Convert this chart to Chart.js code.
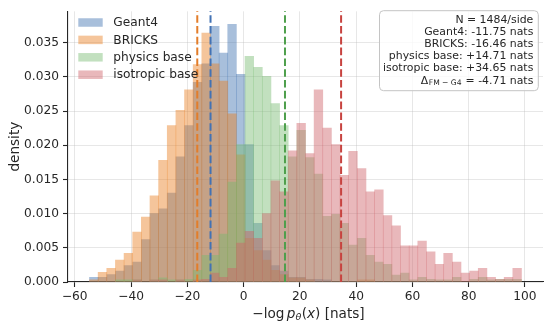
<!DOCTYPE html>
<html><head><meta charset="utf-8">
<script src="https://cdn.jsdelivr.net/npm/chart.js@4.4.1/dist/chart.umd.min.js"></script>
<style>html,body{margin:0;padding:0;background:#fff;}canvas{display:block;}</style>
</head><body>
<canvas id="c" width="550" height="328"></canvas>
<script>
// ---- data ----
const binCenters = [-53.22,-50.15,-47.08,-44.01,-40.94,-37.87,-34.80,-31.73,-28.66,-25.59,
  -22.52,-19.45,-16.38,-13.31,-10.24,-7.17,-4.10,-1.03,2.04,5.11,
  8.18,11.25,14.32,17.39,20.46,23.53,26.60,29.67,32.74,35.81,
  38.88,41.95,45.02,48.09,51.16,54.23,57.30,60.37,63.44,66.51,
  69.58,72.65,75.72,78.79,81.86,84.93,88.00,91.07,94.14,97.21];
const geant4 = [0.0007,0.0007,0.0011,0.0016,0.0024,0.0029,0.0062,0.0100,0.0107,0.0130,
  0.0183,0.0229,0.0292,0.0319,0.0374,0.0335,0.0377,0.0304,0.0201,0.0086,
  0.0046,0.0024,0.0016,0.0007,0.0007,0.0004,0.0004,0.0003,0,0,
  0,0,0,0,0,0,0,0,0,0,
  0,0,0,0,0,0,0,0,0,0];
const bricks = [0.0003,0.0014,0.0020,0.0032,0.0042,0.0073,0.0095,0.0126,0.0178,0.0229,
  0.0251,0.0281,0.0318,0.0364,0.0319,0.0294,0.0246,0.0186,0.0064,0.0046,
  0.0032,0.0017,0.0011,0.0006,0.0006,0.0003,0,0,0,0,
  0,0.0003,0.0003,0,0,0,0,0,0,0,
  0,0,0,0,0,0,0,0,0,0];
const physicsBase = [0,0,0,0.0003,0.0003,0.0003,0,0.0003,0.0006,0.0003,
  0.0003,0.0004,0.0017,0.0039,0.0039,0.0070,0.0146,0.0201,0.0330,0.0314,
  0.0301,0.0261,0.0229,0.0183,0.0222,0.0182,0.0158,0.0096,0.0099,0.0086,
  0.0054,0.0064,0.0039,0.0029,0.0026,0.0010,0.0013,0.0003,0.0007,0.0004,
  0.0003,0.0003,0.0007,0,0.0004,0.0007,0.0003,0.0004,0.0004,0.0004];
const isotropicBase = [0,0,0,0,0,0.0003,0,0.0003,0.0003,0,
  0.0003,0,0.0003,0.0004,0.0013,0.0007,0.0020,0.0057,0.0074,0.0064,
  0.0100,0.0148,0.0132,0.0192,0.0232,0.0188,0.0281,0.0225,0.0201,0.0156,
  0.0191,0.0166,0.0132,0.0135,0.0097,0.0082,0.0053,0.0053,0.0060,0.0044,
  0.0026,0.0042,0.0029,0.0013,0.0016,0.0020,0.0007,0.0004,0.0007,0.0020];
const seriesNames = ['Geant4','BRICKS','physics base','isotropic base'];
const seriesMeans = [-11.75,-16.46,14.71,34.65];
const samplesPerSide = 1484;
const deltaFmG4 = -4.71;
const xTicks = [-60,-40,-20,0,20,40,60,80,100];
const yTicks = [0,0.005,0.010,0.015,0.020,0.025,0.030,0.035];

// ---- styles ----
const FONT = "'DejaVu Sans', sans-serif";
const TEXT = '#262626';
const fillColors = ['rgba(62,114,176,0.45)','rgba(232,126,34,0.45)','rgba(120,186,112,0.45)','rgba(206,97,104,0.45)'];
const lineColors = ['#4272B4','#E37D2A','#4E9F4C','#C7433F'];
const seriesValues = [geant4, bricks, physicsBase, isotropicBase];

const datasets = seriesValues.map((vals, i) => ({
  label: seriesNames[i],
  data: binCenters.map((c, k) => ({x: c, y: vals[k]})),
  backgroundColor: fillColors[i],
  borderWidth: 0,
  grouped: false,
  barPercentage: 1,
  categoryPercentage: 1,
  order: seriesValues.length - i
}));

function fmtSigned(v){ return (v >= 0 ? '+' : '-') + Math.abs(v).toFixed(2); }

const overlay = {
  id: 'overlay',
  afterDatasetsDraw(chart) {
    const {ctx, chartArea: a, scales: {x}} = chart;
    ctx.save();
    ctx.lineWidth = 2;
    ctx.setLineDash([7.6, 3.2]);
    seriesMeans.forEach((m, i) => {
      const px = x.getPixelForValue(m);
      ctx.strokeStyle = lineColors[i];
      ctx.beginPath(); ctx.moveTo(px, a.bottom); ctx.lineTo(px, a.top); ctx.stroke();
    });
    ctx.restore();
  },
  afterDraw(chart) {
    const {ctx, chartArea: a} = chart;
    ctx.save();
    // legend
    ctx.font = `12.2px ${FONT}`;
    ctx.textBaseline = 'middle';
    ctx.textAlign = 'left';
    const ly = [22.5, 39.9, 57.3, 74.7];
    seriesNames.forEach((n, i) => {
      ctx.fillStyle = fillColors[i];
      ctx.fillRect(a.left + 10.3, ly[i] - 4.25, 24.4, 8.5);
      ctx.fillStyle = TEXT;
      ctx.fillText(n, a.left + 45.3, ly[i] + 0.5);
    });
    // annotation box
    const bx = 379.5, by = 10.7, bw = 158.8, bh = 80;
    ctx.beginPath();
    ctx.roundRect(bx, by, bw, bh, 4);
    ctx.fillStyle = 'rgba(255,255,255,0.8)';
    ctx.fill();
    ctx.strokeStyle = '#c4c4c4';
    ctx.lineWidth = 1;
    ctx.stroke();
    const lines = [`N = ${samplesPerSide}/side`].concat(
      seriesNames.map((n, i) => `${n}: ${fmtSigned(seriesMeans[i])} nats`));
    const rx = 533.3;
    const lyA = [20.2, 32.3, 44.4, 56.5, 68.6, 80.7];
    ctx.textAlign = 'right';
    ctx.fillStyle = TEXT;
    ctx.font = `10.9px ${FONT}`;
    lines.forEach((t, i) => ctx.fillText(t, rx, lyA[i]));
    // last line with subscript
    const tail = ` = ${deltaFmG4 < 0 ? '-' : '+'}${Math.abs(deltaFmG4).toFixed(2)} nats`;
    ctx.font = `10.9px ${FONT}`;
    const w1 = ctx.measureText(tail).width;
    ctx.fillText(tail, rx, lyA[5]);
    ctx.font = `7.6px ${FONT}`;
    const sub = 'FM \u2212 G4';
    const w2 = ctx.measureText(sub).width;
    ctx.fillText(sub, rx - w1 - 0.5, lyA[5] + 2.6);
    ctx.font = `10.9px ${FONT}`;
    ctx.fillText('\u0394', rx - w1 - w2 - 1, lyA[5]);
    // y title
    ctx.save();
    ctx.translate(15, (a.top + a.bottom) / 2);
    ctx.rotate(-Math.PI / 2);
    ctx.textAlign = 'center';
    ctx.font = `13.6px ${FONT}`;
    ctx.fillText('density', 0, 0);
    ctx.restore();
    // x title: −log p_θ(x) [nats]
    const parts = [
      {t: '\u2212log', f: `13.6px ${FONT}`, dy: 0, gap: 0},
      {t: 'p', f: `italic 13.6px ${FONT}`, dy: 0, gap: 2.4},
      {t: '\u03b8', f: `italic 9.5px ${FONT}`, dy: 3.2, gap: 0},
      {t: '(', f: `13.6px ${FONT}`, dy: 0, gap: 0.4},
      {t: 'x', f: `italic 13.6px ${FONT}`, dy: 0, gap: 0},
      {t: ')', f: `13.6px ${FONT}`, dy: 0, gap: 0},
      {t: ' [nats]', f: `13.6px ${FONT}`, dy: 0, gap: 0}
    ];
    let total = 0;
    parts.forEach(p => { ctx.font = p.f; p.w = ctx.measureText(p.t).width; total += p.w + p.gap; });
    let cx = (a.left + a.right) / 2 + 3 - total / 2;
    ctx.textAlign = 'left';
    ctx.textBaseline = 'middle';
    parts.forEach(p => { cx += p.gap; ctx.font = p.f; ctx.fillText(p.t, cx, 314 + p.dy); cx += p.w; });
    ctx.restore();
  }
};

new Chart(document.getElementById('c'), {
  type: 'bar',
  data: { datasets },
  options: {
    responsive: false,
    animation: false,
    devicePixelRatio: 1,
    layout: { padding: { left: 0, right: 7, top: 6, bottom: 0 } },
    plugins: { legend: { display: false }, tooltip: { enabled: false } },
    scales: {
      x: {
        type: 'linear', min: -62.4, max: 106.4, offset: false,
        afterBuildTicks: s => { s.ticks = xTicks.map(v => ({value: v})); },
        afterFit: s => { s.height = 46; },
        grid: { offset: false, color: 'rgba(176,176,176,0.3)', lineWidth: 1, tickColor: TEXT, tickLength: 5, tickWidth: 1.1 },
        border: { display: true, color: TEXT, width: 1.1 },
        ticks: { font: { family: FONT, size: 12.2 }, color: TEXT, padding: 3, maxRotation: 0,
          callback: v => (v < 0 ? '\u2212' : '') + Math.abs(v) }
      },
      y: {
        min: 0, max: 0.0396,
        afterBuildTicks: s => { s.ticks = yTicks.map(v => ({value: v})); },
        afterFit: s => { s.width = 68; },
        grid: { color: 'rgba(176,176,176,0.3)', lineWidth: 1, tickColor: TEXT, tickLength: 5, tickWidth: 1.1 },
        border: { display: true, color: TEXT, width: 1.1 },
        ticks: { font: { family: FONT, size: 12.2 }, color: TEXT, padding: 4,
          callback: v => v.toFixed(3) }
      }
    }
  },
  plugins: [overlay]
});
</script>
</body></html>
